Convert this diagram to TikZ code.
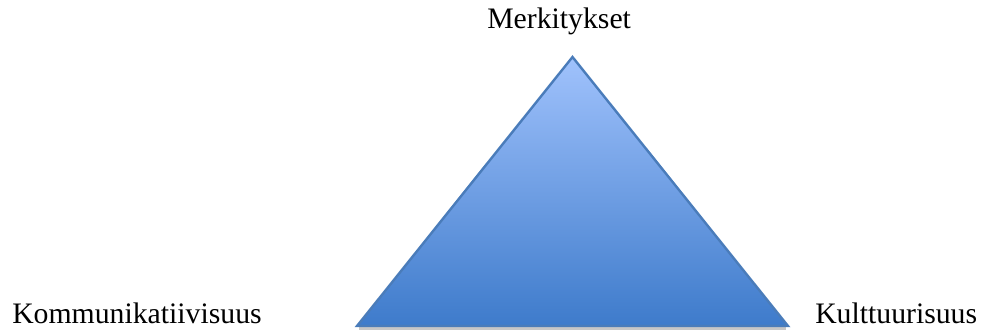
\documentclass[tikz,border=0pt]{standalone}
\usepackage{fontspec}
\setmainfont{Liberation Serif}
\usetikzlibrary{calc}

\definecolor{triTop}{RGB}{160,194,252}
\definecolor{triBottom}{RGB}{62,123,203}
\definecolor{triEdge}{RGB}{74,124,186}

\begin{document}
\begin{tikzpicture}[x=0.75pt, y=-0.75pt,
    corner/.style={font=\fontsize{22.3}{26}\selectfont, anchor=base west, inner sep=0pt}]
    \useasboundingbox (0,0) rectangle (981,331);

    % Corners of the triangle
    \coordinate (apex) at (572.5, 57);
    \coordinate (baseL) at (357, 326);
    \coordinate (baseR) at (788, 326);

    % Shadow under the base
    \fill[black!22] ($(baseL)+(2,0)$) rectangle ($(baseR)+(-2,3.5)$);

    % Triangle
    \shade[top color=triTop, bottom color=triBottom, draw=triEdge, line width=1.8pt, line join=miter]
        (apex) -- (baseR) -- (baseL) -- cycle;

    % Labels
    \node[corner] (merk) at (487, 29) {Merkitykset};
    \node[corner] (komm) at (12, 323) {Kommunikatiivisuus};
    \node[corner] (kult) at (815, 323) {Kulttuurisuus};

\end{tikzpicture}
\end{document}
